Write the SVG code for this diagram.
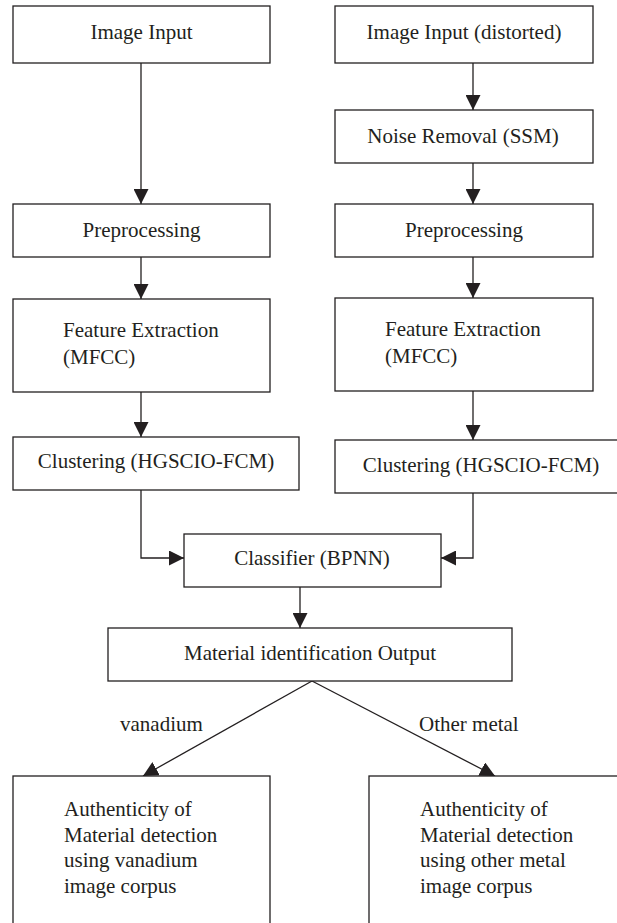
<svg xmlns="http://www.w3.org/2000/svg" width="617" height="923" viewBox="0 0 617 923" font-family="'Liberation Serif', 'Times New Roman', 'DejaVu Serif', serif">
<style>
.box{fill:#fff;stroke:#231f20;stroke-width:1.3}
.t{font-family:'Liberation Serif','Times New Roman','DejaVu Serif',serif;font-size:21px;fill:#231f20}
.c{text-anchor:middle}
.ln{fill:none;stroke:#231f20;stroke-width:1.3}
</style>
<defs>
<marker id="ah" markerUnits="userSpaceOnUse" markerWidth="15" markerHeight="15" refX="15" refY="7.5" orient="auto">
<path d="M0,0 L15,7.5 L0,15 Z" fill="#231f20"/>
</marker>
</defs>
<rect width="617" height="923" fill="#fff"/>
<g id="connectors">
<line class="ln" x1="141" y1="63" x2="141" y2="204" marker-end="url(#ah)"/>
<line class="ln" x1="141" y1="257" x2="141" y2="299" marker-end="url(#ah)"/>
<line class="ln" x1="141" y1="392" x2="141" y2="437" marker-end="url(#ah)"/>
<polyline class="ln" points="141,490 141,558 184,558" marker-end="url(#ah)"/>
<line class="ln" x1="473" y1="63" x2="473" y2="110" marker-end="url(#ah)"/>
<line class="ln" x1="473" y1="163" x2="473" y2="204" marker-end="url(#ah)"/>
<line class="ln" x1="473" y1="257" x2="473" y2="298" marker-end="url(#ah)"/>
<line class="ln" x1="473" y1="391" x2="473" y2="440" marker-end="url(#ah)"/>
<polyline class="ln" points="473,493 473,558 441,558" marker-end="url(#ah)"/>
<line class="ln" x1="300" y1="587" x2="300" y2="628" marker-end="url(#ah)"/>
<line class="ln" x1="312" y1="681" x2="143" y2="776" marker-end="url(#ah)"/>
<line class="ln" x1="312" y1="681" x2="495" y2="776" marker-end="url(#ah)"/>
<text class="t" x="120" y="731">vanadium</text>
<text class="t" x="419" y="731">Other metal</text>
</g>
<g id="n1"><rect class="box" x="13" y="6" width="257" height="57"/><text class="t c" x="141.5" y="39">Image Input</text></g>
<g id="n2"><rect class="box" x="335" y="6" width="258" height="57"/><text class="t c" x="464" y="39">Image Input (distorted)</text></g>
<g id="n3"><rect class="box" x="335" y="110" width="258" height="53"/><text class="t c" x="463" y="143">Noise Removal (SSM)</text></g>
<g id="n4"><rect class="box" x="13" y="204" width="257" height="53"/><text class="t c" x="141.5" y="237">Preprocessing</text></g>
<g id="n5"><rect class="box" x="335" y="204" width="258" height="53"/><text class="t c" x="464" y="237">Preprocessing</text></g>
<g id="n6"><rect class="box" x="13" y="299" width="257" height="93"/><text class="t" x="63" y="337">Feature Extraction</text><text class="t" x="63" y="364">(MFCC)</text></g>
<g id="n7"><rect class="box" x="335" y="298" width="258" height="93"/><text class="t" x="385" y="336">Feature Extraction</text><text class="t" x="385" y="363">(MFCC)</text></g>
<g id="n8"><rect class="box" x="13" y="437" width="286" height="53"/><text class="t c" x="156" y="468">Clustering (HGSCIO-FCM)</text></g>
<g id="n9"><rect class="box" x="335" y="440" width="292" height="53"/><text class="t c" x="481" y="472">Clustering (HGSCIO-FCM)</text></g>
<g id="n10"><rect class="box" x="184" y="534" width="257" height="53"/><text class="t c" x="312" y="565">Classifier (BPNN)</text></g>
<g id="n11"><rect class="box" x="108" y="628" width="404" height="53"/><text class="t c" x="310" y="660">Material identification Output</text></g>
<g id="n12"><rect class="box" x="13" y="776" width="257" height="160"/><text class="t" x="64" y="816">Authenticity of</text><text class="t" x="64" y="842">Material detection</text><text class="t" x="64" y="867">using vanadium</text><text class="t" x="64" y="893">image corpus</text></g>
<g id="n13"><rect class="box" x="369" y="776" width="260" height="160"/><text class="t" x="420" y="816">Authenticity of</text><text class="t" x="420" y="842">Material detection</text><text class="t" x="420" y="867">using other metal</text><text class="t" x="420" y="893">image corpus</text></g>
</svg>
